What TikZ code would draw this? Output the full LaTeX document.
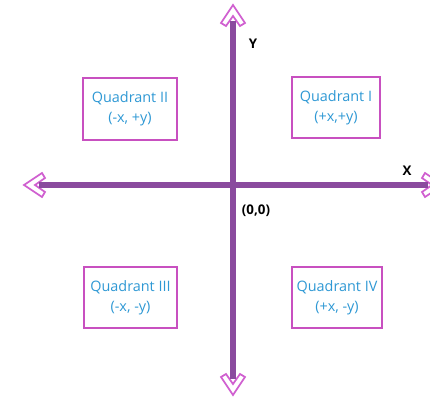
\documentclass[tikz,border=0pt]{standalone}
\usepackage{fontspec}
\setmainfont{Open Sans}
\definecolor{axispurple}{HTML}{8A4B9E}
\definecolor{headpink}{HTML}{D060D0}
\definecolor{boxmag}{HTML}{C850C0}
\definecolor{qblue}{HTML}{2E98D4}
\tikzset{
  shaft/.style={draw=axispurple, line width=3.8pt},
  chev/.style={draw=headpink, line width=1.3pt, fill=white, line join=miter},
  qbox/.style={draw=boxmag, line width=1pt, text=qblue, font=\fontsize{10.8}{15}\selectfont, align=center, inner sep=0pt},
  axlabel/.style={font=\bfseries\fontsize{10}{12}\selectfont, text=black}
}
\begin{document}
\begin{tikzpicture}[x=0.75pt,y=-0.75pt]
\useasboundingbox (0,0) rectangle (430,399);
% coordinates
\coordinate (O) at (233,185);
\coordinate (T) at (233,5);
\coordinate (B) at (233,395);
\coordinate (L) at (24,185);
\coordinate (R) at (443,185);
% chevrons (hollow heads)
\draw[chev] (T) -- ++(-12,18) -- ++(5,3) -- ++(7,-10) -- ++(7,10) -- ++(5,-3) -- cycle;
\draw[chev] (B) -- ++(-12,-18) -- ++(5,-3) -- ++(7,10) -- ++(7,-10) -- ++(5,3) -- cycle;
\draw[chev] (L) -- ++(18,-12) -- ++(3,5) -- ++(-10,7) -- ++(10,7) -- ++(-3,5) -- cycle;
\draw[chev] (R) -- ++(-18,-12) -- ++(-3,5) -- ++(10,7) -- ++(-10,7) -- ++(3,5) -- cycle;
% shafts
\draw[shaft] ([yshift=-12]T) -- ([yshift=12]B);
\draw[shaft] ([xshift=11]L) -- ([xshift=-11]R);
% boxes
\node[qbox, minimum width=94*0.75pt, minimum height=62*0.75pt] (q2) at (130,109) {Quadrant II\\(-x, +y)};
\node[qbox, minimum width=88*0.75pt, minimum height=61*0.75pt] (q1) at (336,107.5) {Quadrant I\\(+x,+y)};
\node[qbox, minimum width=93*0.75pt, minimum height=61*0.75pt] (q3) at (130.5,297.5) {Quadrant III\\(-x, -y)};
\node[qbox, minimum width=90*0.75pt, minimum height=61*0.75pt] (q4) at (337,297.5) {Quadrant IV\\(+x, -y)};
% labels
\node[axlabel] (ylab) at (253,44) {Y};
\node[axlabel] (xlab) at (407,171) {X};
\node[axlabel] (olab) at (256,211) {(0,0)};
\end{tikzpicture}
\end{document}
